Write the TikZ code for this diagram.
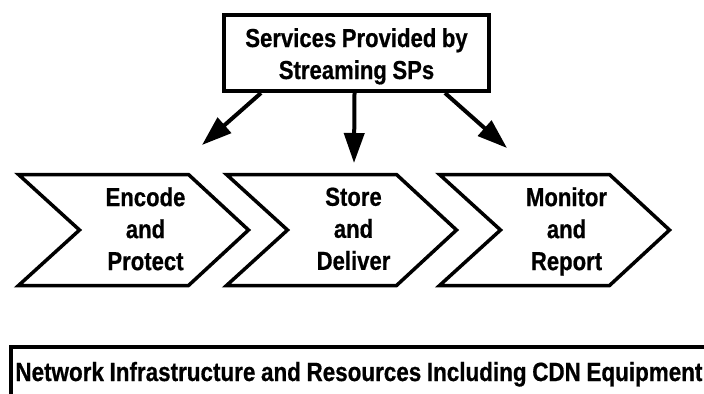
\documentclass[tikz,border=0pt]{standalone}
\usepackage{fontspec}
\setmainfont[FakeStretch=0.85, WordSpace=0.9, FakeBold=0.6]{Liberation Sans}
\usetikzlibrary{arrows.meta}

\begin{document}
\begin{tikzpicture}[x=0.5pt, y=-0.5pt,
    font=\fontsize{13}{16}\selectfont\bfseries,
    box/.style={draw, rectangle, line width=2pt, align=center, inner ysep=0pt},
    chev/.style={draw, line width=1.75pt, line join=miter},
    flow/.style={-{Triangle[length=15pt, width=10pt]}, line width=2pt}]

  \useasboundingbox (0,0) rectangle (704,393);
  \clip (0,0) rectangle (704,393);

  % Top box
  \node[box, minimum width=132.5pt, minimum height=38pt] (services) at (356.5,53)
    {\rule{0pt}{14.8pt}Services Provided by\\Streaming SPs\strut};

  % Chevrons
  \foreach \x/\name/\txt in {18.5/encode/{Encode\\and\\Protect},
                             226.5/store/{Store\\and\\Deliver},
                             439.5/monitor/{Monitor\\and\\Report}} {
    \draw[chev] (\x,174.5) -- ++(170,0) -- ++(60,55.5) -- ++(-60,55.5)
      -- ++(-170,0) -- ++(61,-55.5) -- cycle;
    \node[align=center] (\name) at (\x+127,233.5) {\txt\strut};
  }

  % Arrows
  \coordinate (e1) at (202,145);
  \coordinate (e2) at (354,163);
  \coordinate (e3) at (507,148);
  \draw[flow] ([xshift=19.5pt]services.south west) -- (e1);
  \draw[flow] ([xshift=-1pt]services.south) -- (e2);
  \draw[flow] ([xshift=-23pt]services.south east) -- (e3);

  % Bottom bar
  \node[anchor=base west, inner sep=0pt, font=\fontsize{13.2}{16}\selectfont\bfseries]
    (infra) at (15,381)
    {Network Infrastructure and Resources Including CDN Equipment};
  \draw[line width=1.75pt] (720,346.75) -| (10.75,400);
\end{tikzpicture}
\end{document}
